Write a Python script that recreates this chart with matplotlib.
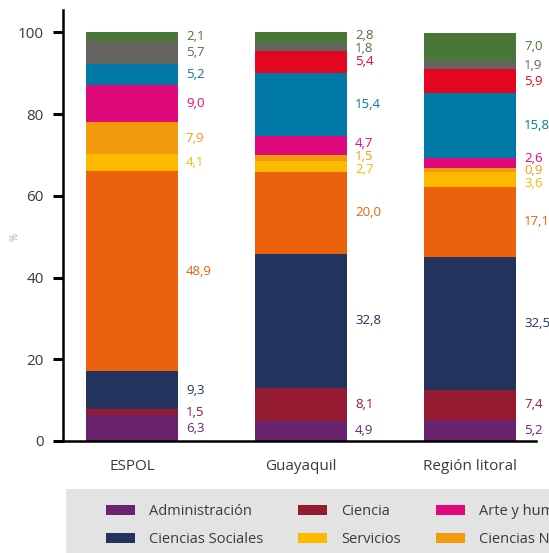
import matplotlib
matplotlib.use("Agg")
import matplotlib.pyplot as plt
from matplotlib.patches import Rectangle, Patch

plt.rcParams["font.family"] = ["Open Sans", "DejaVu Sans"]

# Share of graduates by field of study (%), bottom to top of each stack
categories = ["ESPOL", "Guayaquil", "Región litoral"]

series_names = [
    "Administración",
    "Ciencia",
    "Ciencias Sociales",
    "Ingeniería",
    "Servicios",
    "Ciencias Naturales",
    "Arte y humanidades",
    "Salud",
    "Educación",
    "Agricultura",
    "Otros",
]

administracion = [6.3, 4.9, 5.2]
ciencia = [1.5, 8.1, 7.4]
ciencias_sociales = [9.3, 32.8, 32.5]
ingenieria = [48.9, 20.0, 17.1]
servicios = [4.1, 2.7, 3.6]
ciencias_naturales = [7.9, 1.5, 0.9]
arte_humanidades = [9.0, 4.7, 2.6]
salud = [5.2, 15.4, 15.8]
educacion = [0.0, 5.4, 5.9]
agricultura = [5.7, 1.8, 1.9]
otros = [2.1, 2.8, 7.0]

series_values = [
    administracion, ciencia, ciencias_sociales, ingenieria, servicios,
    ciencias_naturales, arte_humanidades, salud, educacion, agricultura, otros,
]

series_colors = [
    "#6a236e", "#951b33", "#22335e", "#eb610c", "#fbb900",
    "#f39a0c", "#de0a7b", "#0079a6", "#e2071e", "#636360", "#4a7637",
]

# legend reading order, row by row across the panel
legend_order = [
    "Administración", "Ciencia", "Arte y humanidades", "Salud", "Agricultura", "Otros",
    "Ciencias Sociales", "Servicios", "Ciencias Naturales", "Ingeniería", "Educación",
]

y_ticks = [0, 20, 40, 60, 80, 100]

W, H = 549, 553
fig = plt.figure(figsize=(W / 100, H / 100), dpi=100)
ax = fig.add_axes([63 / W, 1 - 441 / H, (536 - 63) / W, (441 - 10) / H])

x = list(range(len(categories)))
bar_w = 0.544
bottoms = [0.0] * len(categories)
centers = [[] for _ in categories]
for vals, col in zip(series_values, series_colors):
    ax.bar(x, vals, width=bar_w, bottom=bottoms, color=col, linewidth=0)
    for i, v in enumerate(vals):
        if v > 0:
            centers[i].append([bottoms[i] + v / 2, v, col])
    bottoms = [b + v for b, v in zip(bottoms, vals)]

# value labels to the right of each stack, nudged apart where crowded
min_gap = 3.1
for i, labs in enumerate(centers):
    pos = [c[0] for c in labs]
    for _ in range(200):
        moved = False
        for k in range(len(pos) - 1):
            gap = pos[k + 1] - pos[k]
            if gap < min_gap - 1e-6:
                d = (min_gap - gap) / 2
                pos[k] -= d
                pos[k + 1] += d
                moved = True
        if not moved:
            break
    for p, (c, v, col) in zip(pos, labs):
        ax.text(i + bar_w / 2 + 0.047, p, f"{v:.1f}".replace(".", ","),
                color=col, fontsize=9.5, ha="left", va="center", clip_on=False)

ax.set_xlim(-0.408, 2.39)
ax.set_ylim(0, 105.45)
ax.set_yticks(y_ticks)
ax.set_yticklabels([str(t) for t in y_ticks])
ax.set_xticks(x)
ax.set_xticklabels(categories)
ax.tick_params(axis="y", length=7, width=2.2, color="black", pad=7,
               labelsize=11, labelcolor="#3a3a3a")
ax.tick_params(axis="x", length=0, pad=13, labelsize=11, labelcolor="#3a3a3a")
for s in ("top", "right"):
    ax.spines[s].set_visible(False)
ax.spines["left"].set_linewidth(1.8)
ax.spines["bottom"].set_linewidth(1.8)
ax.spines["bottom"].set_bounds(-0.408 - 6 / 169, 2.39)

fig.text(15 / W, 1 - 237 / H, "%", rotation=90, fontsize=7, color="#aaaaaa",
         ha="center", va="center")

# legend panel
fig.patches.append(Rectangle((66 / W, 0), 1.0, 1 - 489 / H,
                             transform=fig.transFigure, facecolor="#e3e3e3",
                             edgecolor="none", zorder=0))
color_of = dict(zip(series_names, series_colors))
n_cols = 6
n_rows = 2
# matplotlib fills legend columns top-down, so interleave the two rows
ordered = []
for c in range(n_cols):
    for r in range(n_rows):
        k = r * n_cols + c
        if k < len(legend_order):
            ordered.append(legend_order[k])
handles = [Patch(facecolor=color_of[n], edgecolor="none") for n in ordered]
fig.legend(handles, ordered, ncol=n_cols, loc="upper left",
           bbox_to_anchor=(106 / W, 1 - 504 / H), frameon=False,
           borderpad=0, borderaxespad=0, fontsize=10.5,
           handlelength=2.0, handleheight=0.7, handletextpad=0.95,
           columnspacing=2.4, labelspacing=0.9, labelcolor="#3a3a3a")

fig.savefig("out.png", dpi=100)
